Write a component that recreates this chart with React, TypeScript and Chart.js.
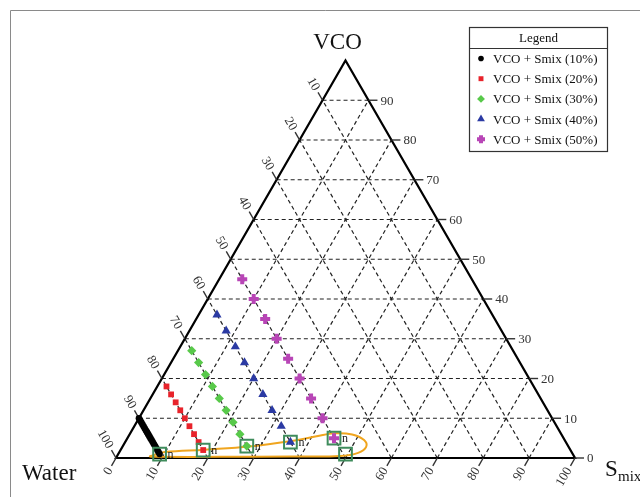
import React, { useEffect, useRef } from 'react';
import { Chart, registerables } from 'chart.js';
import { drawPoint } from 'chart.js/helpers';

Chart.register(...registerables);

// ---- data (percent compositions) ----
const seriesNames = [
  'VCO + Smix (10%)',
  'VCO + Smix (20%)',
  'VCO + Smix (30%)',
  'VCO + Smix (40%)',
  'VCO + Smix (50%)',
];
// water content held fixed along each dilution line
const seriesWater = [90, 80, 70, 60, 50];
const vco10 = [10, 9.5, 9, 8.5, 8, 7.5, 7, 6.5, 6, 5.5, 5, 4.5, 4, 3.5, 3, 2.5, 2, 1.5, 1];
const vco20 = [18, 16, 14, 12, 10, 8, 6, 4, 2];
const vco30 = [27, 24, 21, 18, 15, 12, 9, 6, 3];
const vco40 = [36, 32, 28, 24, 20, 16, 12, 8, 4];
const vco50 = [45, 40, 35, 30, 25, 20, 15, 10, 5];
const seriesVco = [vco10, vco20, vco30, vco40, vco50];

// boxed points and their labels
const boxSmix = [9, 18, 27, 36, 45, 49.5];
const boxVco = [1, 2, 3, 4, 5, 1];
const boxText = ['n', 'n', "n'", "n'", 'n', ''];

// orange closed region boundary
const loopSmix = [7.5, 9.9, 18.3, 27.7, 35.8, 40.7, 44.6, 48.5, 51.8, 53.1, 52.1, 48.6, 37.7, 22.5, 9.4, 7.2, 7.5];
const loopVco = [0.6, 1.5, 2.1, 2.9, 4.2, 5.4, 6.2, 5.9, 4.5, 2.8, 1.3, 0.5, 0.4, 0.3, 0.3, 0.4, 0.6];

const gridValues = [10, 20, 30, 40, 50, 60, 70, 80, 90];
const axisTicks = [0, 10, 20, 30, 40, 50, 60, 70, 80, 90, 100];

// ---- styles ----
const seriesStyles = [
  { color: '#000000', pointStyle: 'circle', radius: 3.3, borderWidth: 0 },
  { color: '#e8232b', pointStyle: 'rect', radius: 4.1, borderWidth: 0 },
  { color: '#58c94a', pointStyle: 'rectRot', radius: 4.6, borderWidth: 0 },
  { color: '#2b3aa3', pointStyle: 'triangle', radius: 5.3, borderWidth: 0 },
  { color: '#b845b6', pointStyle: 'cross', radius: 5, borderWidth: 4 },
];
const SERIF = '"Liberation Serif", "Times New Roman", serif';

const toXY = (s: number, v: number) => ({ x: s + v / 2, y: v });

const P = (chart: any, s: number, v: number) => ({
  x: chart.scales.x.getPixelForValue(s + v / 2),
  y: chart.scales.y.getPixelForValue(v),
});

const ternaryPlugin = {
  id: 'ternary',
  beforeDatasetsDraw(chart: any) {
    const ctx = chart.ctx as CanvasRenderingContext2D;
    const seg = (a: any, b: any) => {
      ctx.beginPath();
      ctx.moveTo(a.x, a.y);
      ctx.lineTo(b.x, b.y);
      ctx.stroke();
    };
    ctx.save();
    // dashed grid
    ctx.strokeStyle = '#222';
    ctx.lineWidth = 1.2;
    ctx.setLineDash([4, 3]);
    for (const k of gridValues) {
      seg(P(chart, 0, k), P(chart, 100 - k, k));
      seg(P(chart, k, 0), P(chart, k, 100 - k));
      seg(P(chart, 100 - k, 0), P(chart, 0, 100 - k));
    }
    ctx.setLineDash([]);
    // triangle
    const A = P(chart, 0, 0), B = P(chart, 100, 0), C = P(chart, 0, 100);
    ctx.strokeStyle = '#000';
    ctx.lineWidth = 2.2;
    ctx.beginPath();
    ctx.moveTo(A.x, A.y);
    ctx.lineTo(B.x, B.y);
    ctx.lineTo(C.x, C.y);
    ctx.closePath();
    ctx.stroke();

    // ticks & labels
    ctx.strokeStyle = '#333';
    ctx.lineWidth = 1.4;
    ctx.fillStyle = '#333';
    ctx.font = `13px ${SERIF}`;
    const TL = 9, GAP = 3;
    const c60 = 0.5, s60 = Math.sqrt(3) / 2;
    // right axis (VCO)
    for (const k of axisTicks) {
      if (k === 100) continue;
      const r = P(chart, 100 - k, k);
      seg(r, { x: r.x + TL, y: r.y });
      ctx.textAlign = 'left';
      ctx.textBaseline = 'middle';
      ctx.fillText(String(k), r.x + TL + GAP, r.y + 1);
    }
    // left axis (Water)
    for (const k of axisTicks) {
      if (k === 0) continue;
      const l = P(chart, 0, 100 - k);
      const e = { x: l.x - c60 * TL, y: l.y - s60 * TL };
      seg(l, e);
      ctx.save();
      ctx.translate(l.x - c60 * (TL + GAP), l.y - s60 * (TL + GAP));
      ctx.rotate(Math.PI / 3);
      ctx.textAlign = 'right';
      ctx.textBaseline = 'middle';
      ctx.fillText(String(k), 0, 0);
      ctx.restore();
    }
    // bottom axis (Smix)
    for (const k of axisTicks) {
      const b = P(chart, k, 0);
      const e = { x: b.x - c60 * TL, y: b.y + s60 * TL };
      seg(b, e);
      ctx.save();
      ctx.translate(b.x - c60 * (TL + GAP), b.y + s60 * (TL + GAP));
      ctx.rotate(-Math.PI / 3);
      ctx.textAlign = 'right';
      ctx.textBaseline = 'middle';
      ctx.fillText(String(k), 0, 0);
      ctx.restore();
    }

    // axis titles
    ctx.fillStyle = '#111';
    ctx.font = `23px ${SERIF}`;
    ctx.textBaseline = 'alphabetic';
    ctx.textAlign = 'center';
    ctx.fillText('VCO', C.x - 8, C.y - 12);
    ctx.textAlign = 'left';
    ctx.fillText('Water', 22, A.y + 22);
    ctx.fillText('S', B.x + 30, B.y + 18);
    ctx.font = `15px ${SERIF}`;
    ctx.fillText('mix', B.x + 43, B.y + 23);
    ctx.restore();
  },
  afterDraw(chart: any) {
    const ctx = chart.ctx as CanvasRenderingContext2D;
    ctx.save();
    // box labels
    ctx.fillStyle = '#222';
    ctx.font = `12px ${SERIF}`;
    ctx.textAlign = 'left';
    ctx.textBaseline = 'middle';
    boxText.forEach((t, i) => {
      if (!t) return;
      const p = P(chart, boxSmix[i], boxVco[i]);
      ctx.fillText(t, p.x + 8, p.y + 1);
    });

    // legend
    const lx = 469.5, ly = 27.5, lw = 138, lh = 124;
    ctx.fillStyle = '#ffffff';
    ctx.fillRect(lx, ly, lw, lh);
    ctx.strokeStyle = '#333';
    ctx.lineWidth = 1.2;
    ctx.strokeRect(lx, ly, lw, lh);
    ctx.beginPath();
    ctx.moveTo(lx, ly + 21);
    ctx.lineTo(lx + lw, ly + 21);
    ctx.stroke();
    ctx.fillStyle = '#111';
    ctx.font = `13px ${SERIF}`;
    ctx.textAlign = 'center';
    ctx.textBaseline = 'middle';
    ctx.fillText('Legend', lx + lw / 2, ly + 11);
    ctx.textAlign = 'left';
    seriesNames.forEach((name, i) => {
      const y = 58.5 + i * 20.2;
      const st = seriesStyles[i];
      ctx.fillStyle = st.color;
      ctx.strokeStyle = st.color;
      ctx.lineWidth = st.borderWidth;
      drawPoint(ctx, {
        pointStyle: st.pointStyle as any,
        radius: st.pointStyle === 'cross' ? 4 : st.radius * 0.85,
        borderWidth: st.borderWidth,
        rotation: 0,
      } as any, 481, y);
      ctx.fillStyle = '#111';
      ctx.fillText(name, 493, y + 1);
    });

    // outer frame
    ctx.strokeStyle = '#8a8a8a';
    ctx.lineWidth = 1;
    ctx.beginPath();
    ctx.moveTo(10.5, 497);
    ctx.lineTo(10.5, 10.5);
    ctx.lineTo(640, 10.5);
    ctx.stroke();
    ctx.restore();
  },
};

export default function App() {
  const canvasRef = useRef<HTMLCanvasElement | null>(null);

  useEffect(() => {
    const canvas = canvasRef.current;
    if (!canvas) return;

    const seriesSets = seriesNames.map((name, i) => {
      const st = seriesStyles[i];
      return {
        label: name,
        data: seriesVco[i].map((v) => toXY(100 - seriesWater[i] - v, v)),
        pointStyle: st.pointStyle,
        pointRadius: st.radius,
        pointBackgroundColor: st.color,
        pointBorderColor: st.color,
        pointBorderWidth: st.borderWidth,
        showLine: false,
        clip: false,
        order: 2,
      };
    });

    const loopSet = {
      label: 'region',
      data: loopSmix.map((s, i) => toXY(s, loopVco[i])),
      showLine: true,
      borderColor: '#f0a51e',
      borderWidth: 2,
      pointRadius: 0,
      tension: 0.4,
      fill: false,
      clip: false,
      order: 3,
    };

    const boxSet = {
      label: 'boxes',
      data: boxSmix.map((s, i) => toXY(s, boxVco[i])),
      pointStyle: 'rect',
      pointRadius: 9,
      pointBackgroundColor: 'rgba(0,0,0,0)',
      pointBorderColor: '#3f8c5c',
      pointBorderWidth: 2,
      showLine: false,
      clip: false,
      order: 1,
    };

    const chart = new Chart(canvas, {
      type: 'scatter',
      data: { datasets: [...seriesSets, loopSet, boxSet] as any },
      options: {
        animation: false,
        responsive: false,
        devicePixelRatio: 1,
        layout: { padding: { left: 116, right: 65, top: 60.5, bottom: 39 } },
        scales: {
          x: { type: 'linear', min: 0, max: 100, display: false },
          y: { type: 'linear', min: 0, max: 100, display: false },
        },
        plugins: {
          legend: { display: false },
          tooltip: { enabled: false },
        },
      },
      plugins: [ternaryPlugin],
    });
    return () => chart.destroy();
  }, []);

  return (
    <div style={{ position: 'absolute', left: 0, top: 0, width: 640, height: 497, background: '#fff' }}>
      <canvas ref={canvasRef} width={640} height={497} style={{ display: 'block' }} />
    </div>
  );
}
